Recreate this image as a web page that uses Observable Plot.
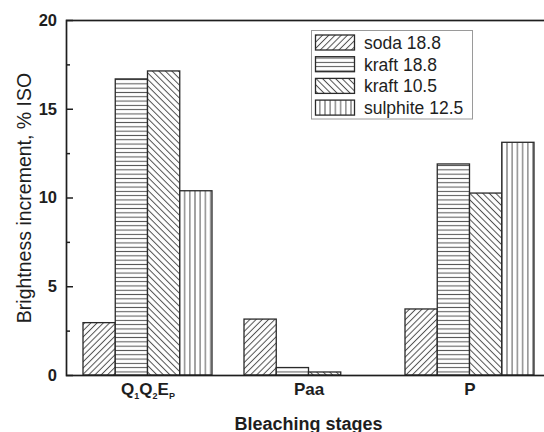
<!DOCTYPE html>
<html><head><meta charset="utf-8">
<script src="https://cdn.jsdelivr.net/npm/d3@7"></script>
<script src="https://cdn.jsdelivr.net/npm/@observablehq/plot@0.6"></script>
<style>
html,body{margin:0;padding:0;background:#fff;overflow:hidden;}
#chart{width:544px;height:432px;overflow:hidden;}
</style></head><body><div id="chart"></div>
<script>
const stages = ["Q1Q2EP", "Paa", "P"];
const series = ["soda 18.8", "kraft 18.8", "kraft 10.5", "sulphite 12.5"];
const soda188 = [2.95, 3.15, 3.72];
const kraft188 = [16.68, 0.42, 11.89];
const kraft105 = [17.13, 0.17, 10.25];
const sulphite125 = [10.38, 0, 13.11];
const yTicks = [0, 5, 10, 15, 20];
const yMinorTicks = [2.5, 7.5, 12.5, 17.5];
const yLabel = "Brightness increment, % ISO";
const xLabel = "Bleaching stages";
const patternIds = ["hatch-soda", "hatch-kraft188", "hatch-kraft105", "hatch-sulphite"];

const columns = [soda188, kraft188, kraft105, sulphite125];
const data = stages.flatMap((stage, i) => series.map((s, j) => ({stage, series: s, value: columns[j][i]})));

const FONT = "'Liberation Sans', Arial, Helvetica, sans-serif";
const INK = "#1e1e1e";

const base = {
  width: 550, height: 432,
  marginLeft: 66, marginRight: 0, marginTop: 20, marginBottom: 57,
  style: {fontFamily: FONT, color: INK, background: "white", maxWidth: "none", overflow: "hidden"},
  x: {domain: stages, paddingInner: 0.2, paddingOuter: 0.1, label: null},
  y: {domain: [0, 20]},
  color: {domain: series, range: patternIds.map(id => `url(#${id})`)}
};

// first pass: read the band width of each stage group from Plot's x scale
const probe = Plot.plot({...base, marks: [Plot.barY(data, {x: "stage", y: "value"})]});
const bw = probe.scale("x").bandwidth;
const slot = bw / series.length;

const barMarks = series.map((s, j) => Plot.barY(data.filter(d => d.series === s), {
  x: "stage", y: "value", fill: "series", stroke: "#2a2a2a", strokeWidth: 1.3,
  insetLeft: j * slot, insetRight: (series.length - 1 - j) * slot
}));

const plot = Plot.plot({
  ...base,
  marks: [
    ...barMarks,
    Plot.axisX({anchor: "bottom", tickSize: 0, tickPadding: 7, fontSize: 17, fontWeight: "bold", label: null}),
    Plot.axisY(yTicks, {anchor: "left", tickSize: 0, tickPadding: 9.5, fontSize: 16.5, fontWeight: "bold", label: null}),
    Plot.axisY(yTicks, {anchor: "left", tickSize: -7, fill: "none", strokeWidth: 1.5, label: null}),
    Plot.axisY(yMinorTicks, {anchor: "left", tickSize: -4, fill: "none", strokeWidth: 1.5, label: null}),
    Plot.axisY(yTicks, {anchor: "right", tickSize: -7, fill: "none", strokeWidth: 1.5, label: null}),
    Plot.axisY(yMinorTicks, {anchor: "right", tickSize: -4, fill: "none", strokeWidth: 1.5, label: null}),
    Plot.frame({stroke: INK, strokeWidth: 1.7}),
    Plot.text([yLabel], {text: d => d, frameAnchor: "left", rotate: -90, dx: -42, dy: 0, fontSize: 19.5, textAnchor: "middle", lineAnchor: "middle"}),
    Plot.text([xLabel], {text: d => d, frameAnchor: "bottom", dy: 49, fontSize: 18, fontWeight: "bold", textAnchor: "middle", lineAnchor: "middle"})
  ]
});

const svg = d3.select(plot);
// hatch patterns
const defs = svg.insert("defs", ":first-child");
const pat = (id, size, rot, horizontal) => {
  const p = defs.append("pattern").attr("id", id).attr("patternUnits", "userSpaceOnUse")
    .attr("width", size).attr("height", size);
  if (rot) p.attr("patternTransform", `rotate(${rot})`);
  p.append("rect").attr("width", size).attr("height", size).attr("fill", "white");
  if (horizontal) p.append("line").attr("x1", 0).attr("x2", size).attr("y1", size / 2).attr("y2", size / 2).attr("stroke", "#505050").attr("stroke-width", 1);
  else p.append("line").attr("y1", 0).attr("y2", size).attr("x1", size / 2).attr("x2", size / 2).attr("stroke", "#505050").attr("stroke-width", 1);
};
pat(patternIds[0], 4.4, 45, false);
pat(patternIds[1], 4.3, 0, true);
pat(patternIds[2], 4.6, -45, false);
pat(patternIds[3], 5.2, 0, false);

// subscripted stage label
svg.selectAll("text").filter(function() { return this.textContent === "Q1Q2EP"; }).each(function() {
  const t = d3.select(this);
  t.text(null);
  const parts = [["Q", false], ["1", true], ["Q", false], ["2", true], ["E", false], ["P", true]];
  parts.forEach(([s, sub]) => {
    const ts = t.append("tspan").text(s);
    if (sub) ts.attr("font-size", 9).attr("baseline-shift", "-45%");
  });
});

// legend
const lg = svg.append("g").attr("font-family", FONT).attr("font-size", 17.5).attr("fill", INK).attr("text-anchor", "start");
lg.append("rect").attr("x", 311.5).attr("y", 30.5).attr("width", 161).attr("height", 88.5)
  .attr("fill", "white").attr("stroke", "#9a9a9a").attr("stroke-width", 1);
series.forEach((s, i) => {
  const cy = 42.5 + i * 21.7;
  lg.append("rect").attr("x", 315.5).attr("y", cy - 7.5).attr("width", 39).attr("height", 15)
    .attr("fill", `url(#${patternIds[i]})`).attr("stroke", "#2a2a2a").attr("stroke-width", 1.3);
  lg.append("text").attr("x", 364).attr("y", cy).attr("dy", "0.36em").text(s);
});

document.getElementById("chart").appendChild(plot);
</script></body></html>
